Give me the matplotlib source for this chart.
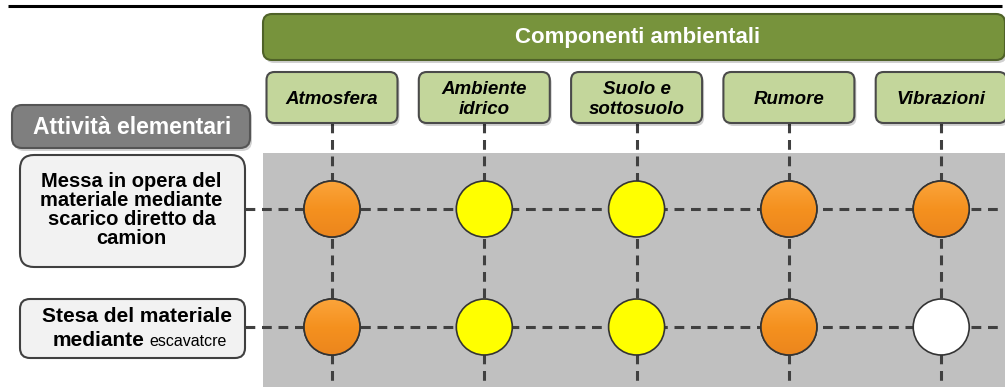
import numpy as np
import matplotlib
matplotlib.use("Agg")
from matplotlib import pyplot as plt
from matplotlib.patches import FancyBboxPatch, Circle, Rectangle

plt.rcParams["font.family"] = ["Liberation Sans", "DejaVu Sans"]

# ---------------------------------------------------------------------------
# Data
# ---------------------------------------------------------------------------
header_title = "Componenti ambientali"
row_title = "Attività elementari"
components = ["Atmosfera", "Ambiente\nidrico", "Suolo e\nsottosuolo", "Rumore", "Vibrazioni"]
activities = ["Messa in opera del\nmateriale mediante\nscarico diretto da\ncamion",
              "Stesa del materiale"]
activity2_tail = ("mediante", "escavatcre")
# 2 = arancio, 1 = giallo, 0 = bianco
impact = [
    [2, 1, 1, 2, 2],
    [2, 1, 1, 2, 0],
]
level_colors = {2: ("#fba43a", "#ec861d"), 1: ("#ffff00", "#ffff00"), 0: ("#ffffff", "#ffffff")}

# ---------------------------------------------------------------------------
# Layout (pixel space)
# ---------------------------------------------------------------------------
W, H = 1005, 387
col_x0, col_dx = 332, 152.3
row_y0, row_dy = 209, 118
circle_r = 28
col_box_w, col_box_top, col_box_h = 131, 72, 51
label_box = [(20, 155, 225, 112), (20, 299, 225, 59)]
dash_col = "#404040"

fig = plt.figure(figsize=(W / 100, H / 100), dpi=100)
ax = fig.add_axes([0, 0, 1, 1])
ax.set_xlim(0, W)
ax.set_ylim(H, 0)
ax.axis("off")


def rbox(x, y, w, h, r, fc, ec, lw=1.5, shadow=True, z=3):
    if shadow:
        ax.add_patch(FancyBboxPatch((x + 2, y + 3), w, h, boxstyle=f"round,pad=0,rounding_size={r}",
                                    fc="#000000", ec="none", alpha=0.18, zorder=z - 0.5))
    ax.add_patch(FancyBboxPatch((x, y), w, h, boxstyle=f"round,pad=0,rounding_size={r}",
                                fc=fc, ec=ec, lw=lw, zorder=z))


# top rule
ax.plot([8, 1002], [6, 6], color="black", lw=2.2, solid_capstyle="butt", zorder=5)

# grey grid background
ax.add_patch(Rectangle((263, 153), W - 263, H - 153, fc="#c0c0c0", ec="none", zorder=0))

col_x = [col_x0 + i * col_dx for i in range(len(components))]
row_y = [row_y0 + j * row_dy for j in range(len(activities))]

# dashed grid
for x in col_x:
    ax.plot([x, x], [col_box_top + col_box_h, H], color=dash_col, lw=2.2,
            dashes=(3.2, 2.2), zorder=1)
for y in row_y:
    ax.plot([245, 998], [y, y], color=dash_col, lw=2.2, dashes=(3.2, 2.2), zorder=1)

# header
rbox(263, 14, 742, 46, 9, "#77933c", "#4f6228", lw=1.5)
ax.text(638, 38, header_title, color="white", fontsize=16, fontweight="bold",
        ha="center", va="center", zorder=6)

# column headers
for x, name in zip(col_x, components):
    rbox(x - col_box_w / 2, col_box_top, col_box_w, col_box_h, 8, "#c3d69b", "#4a4a4a")
    ax.text(x, col_box_top + col_box_h / 2 + 2, name, fontsize=13.5, fontweight="bold",
            style="italic", ha="center", va="center", linespacing=1.2, zorder=6)

# row title
rbox(12, 105, 238, 43, 10, "#7f7f7f", "#555555")
ax.text(132, 127, row_title, color="white", fontsize=16.5, fontweight="bold",
        ha="center", va="center", zorder=6)

# activity labels
for (bx, by, bw, bh), name in zip(label_box, activities):
    rbox(bx, by, bw, bh, 14 if bh > 80 else 10, "#f2f2f2", "#404040", shadow=False)
(bx, by, bw, bh) = label_box[0]
ax.text(bx + bw / 2 - 1, by + bh / 2 - 1, activities[0], fontsize=14.5, fontweight="bold",
        ha="center", va="center", linespacing=1.0, zorder=6)
(bx, by, bw, bh) = label_box[1]
ax.text(bx + bw / 2 + 5, by + 18, activities[1], fontsize=15, fontweight="bold",
        ha="center", va="center", zorder=6)
ax.text(144, by + 41, activity2_tail[0], fontsize=15, fontweight="bold",
        ha="right", va="center", zorder=6)
ax.text(149, by + 42, activity2_tail[1], fontsize=11.5, ha="left", va="center", zorder=6)

# impact circles
grad = np.linspace(0, 1, 64).reshape(-1, 1)
for j, y in enumerate(row_y):
    for i, x in enumerate(col_x):
        top, bot = level_colors[impact[j][i]]
        c = Circle((x, y), circle_r, fc=top, ec="#333333", lw=1.2, zorder=4)
        ax.add_patch(c)
        if top != bot:
            cmap = matplotlib.colors.LinearSegmentedColormap.from_list("g", [top, "#f5911f", bot])
            im = ax.imshow(grad, cmap=cmap, extent=(x - circle_r, x + circle_r, y + circle_r, y - circle_r),
                           aspect="auto", zorder=4.1, interpolation="bilinear")
            im.set_clip_path(c)
            ax.add_patch(Circle((x, y), circle_r, fc="none", ec="#333333", lw=1.2, zorder=4.2))

ax.set_xlim(0, W)
ax.set_ylim(H, 0)
fig.savefig("out.png", dpi=100)
